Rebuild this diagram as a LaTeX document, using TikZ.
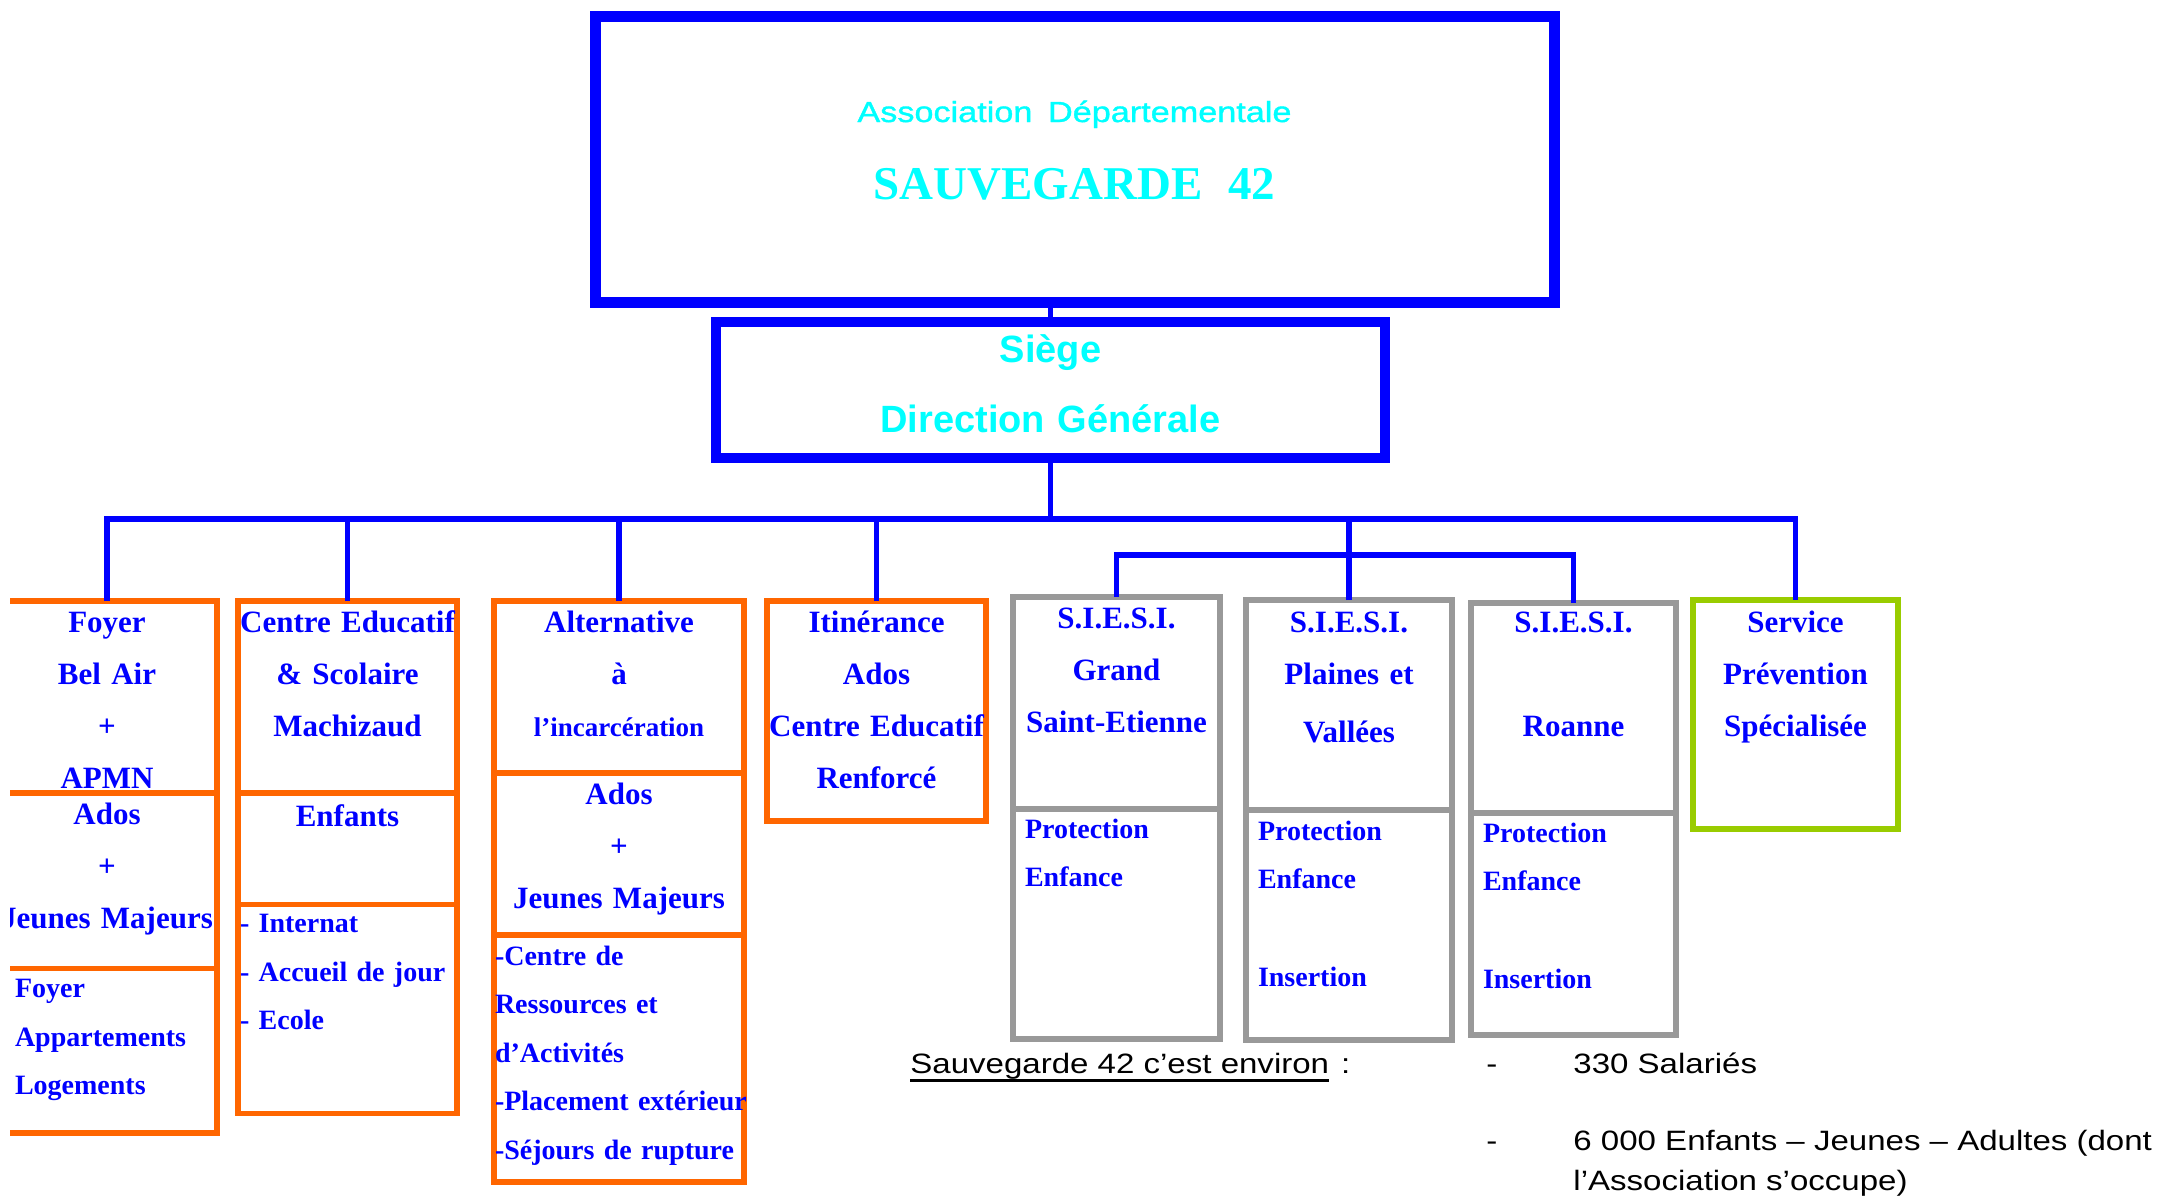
\documentclass[tikz,border=0pt]{standalone}
\usepackage{fontspec}
\setmainfont{Liberation Serif}
\setsansfont{Liberation Sans}
\newfontfamily\wideSans{Liberation Sans}[FakeStretch=1.18]
\newfontfamily\titleSans{Liberation Sans}[FakeStretch=1.18, FakeBold=1.2]
\usepackage{xcolor}
\usepackage{tikz}
\usetikzlibrary{positioning}
\definecolor{unitblue}{HTML}{0000FF}
\definecolor{titlecyan}{HTML}{00FFFF}
\definecolor{unitorange}{HTML}{FF6600}
\definecolor{unitgrey}{HTML}{999999}
\definecolor{unitgreen}{HTML}{99CC00}
\newcommand{\boxfont}{\fontsize{15.5}{26}\selectfont\bfseries}
\newcommand{\listfont}{\fontsize{14}{24.25}\selectfont\bfseries}
\newcommand{\underlined}[1]{\setbox0\hbox{#1}\rlap{\rule[-4.5pt]{\wd0}{1.5pt}}\box0}
\hyphenpenalty=10000
\exhyphenpenalty=10000
\hbadness=10000
\hfuzz=50pt

\begin{document}
\begin{tikzpicture}[x=0.5pt, y=-0.5pt,
    unit/.style={draw, line width=2.75pt, outer sep=0pt, inner xsep=1pt, inner ysep=0pt,
      text=unitblue, font=\boxfont, text height=15.5pt, align=center},
    orangeunit/.style={unit, draw=unitorange},
    greyunit/.style={unit, draw=unitgrey},
    greenunit/.style={unit, draw=unitgreen},
    titlebox/.style={draw=unitblue, outer sep=0pt, inner xsep=1pt, inner ysep=0pt, text=titlecyan, align=center},
    link/.style={draw=unitblue, line width=2.75pt},
    note/.style={inner sep=0pt, font=\wideSans\fontsize{14}{17}\selectfont}]
  \useasboundingbox (0,0) rectangle (2163,1199);
  \clip (10,0) rectangle (2163,1199);

  \node[titlebox, line width=5.5pt, text width=477.5pt, text height=53pt, text depth=90pt, anchor=north,
    font=\bfseries\fontsize{23.5}{38.5}\selectfont] (head) at (1074.5,16)
    {{\mdseries\titleSans\fontsize{14.5}{20}\selectfont Association Départementale}\\
     SAUVEGARDE\hspace{0.55em}42};
  \node[titlebox, line width=5pt, text width=332.5pt, text height=20pt, text depth=48pt, anchor=north,
    font=\sffamily\bfseries\fontsize{19}{35}\selectfont] (siege) at (1050.5,322) {Siège\\Direction Générale};

  \node[orangeunit, text width=108pt, text depth=80.5pt, anchor=north] (foyerA) at (107,601) {Foyer\\Bel~Air\\+\\APMN};
  \node[orangeunit, text width=108pt, text depth=72.25pt, below=0pt of foyerA] (foyerB) {Ados\\+\\Jeunes~Majeurs};
  \node[orangeunit, text width=92pt, inner xsep=9pt, text height=14.5pt, text depth=67.75pt, align=left, font=\listfont,
    below=0pt of foyerB] (foyerC) {Foyer\\Appartements\\Logements};

  \node[orangeunit, text width=107.5pt, text depth=80.5pt, anchor=north] (centreA) at (347.5,601) {Centre~Educatif\\\&~Scolaire\\Machizaud};
  \node[orangeunit, text width=107.5pt, text height=16.5pt, text depth=39.25pt, below=0pt of centreA] (centreB) {Enfants};
  \node[orangeunit, text width=107.5pt, text height=14pt, text depth=90.5pt, align=left, font=\listfont,
    below=0pt of centreB] (centreC) {- Internat\\- Accueil~de~jour\\- Ecole};

  \node[orangeunit, text width=123pt, text depth=70.5pt, anchor=north] (altA) at (619,601)
    {Alternative\\à\\{\fontsize{13.5}{26}\selectfont l’incarcération}};
  \node[orangeunit, text width=123pt, text depth=65.5pt, below=0pt of altA] (altB) {Ados\\+\\Jeunes~Majeurs};
  \node[orangeunit, text width=124pt, inner xsep=0.5pt, text height=15pt, text depth=108.5pt, align=left, font=\listfont,
    below=0pt of altB] (altC) {-Centre de\\Ressources et\\d’Activités\\-Placement~extérieur\\-Séjours~de~rupture};

  \node[orangeunit, text width=107.5pt, text depth=94.5pt, anchor=north] (itin) at (876.5,601)
    {Itinérance\\Ados\\Centre~Educatif\\Renforcé};

  \node[greyunit, text width=101.5pt, text depth=90.5pt, anchor=north] (siesiA1) at (1116.5,597) {S.I.E.S.I.\\Grand\\Saint-Etienne};
  \node[greyunit, text width=91.5pt, inner xsep=6pt, text height=14.5pt, text depth=100.5pt, align=left, font=\listfont,
    below=0pt of siesiA1] (siesiA2) {Protection\\Enfance};
  \node[greyunit, text width=101pt, text height=16pt, text depth=89pt, anchor=north] (siesiB1) at (1349,600)
    {S.I.E.S.I.\\Plaines~et\\[3pt]Vallées};
  \node[greyunit, text width=91pt, inner xsep=6pt, text height=15pt, text depth=100pt, align=left, font=\listfont,
    below=0pt of siesiB1] (siesiB2) {Protection\\Enfance\\[24.5pt]Insertion};
  \node[greyunit, text width=100.5pt, text height=14.5pt, text depth=90.5pt, anchor=north] (siesiC1) at (1573.5,603)
    {S.I.E.S.I.\\[26pt]Roanne};
  \node[greyunit, text width=90.5pt, inner xsep=6pt, text height=14.5pt, text depth=96.5pt, align=left, font=\listfont,
    below=0pt of siesiC1] (siesiC2) {Protection\\Enfance\\[24.5pt]Insertion};

  \node[greenunit, text width=100.5pt, text height=16pt, text depth=98.5pt, anchor=north] (service) at (1795.5,600)
    {Service\\Prévention\\Spécialisée};

  \draw[link, line width=2.5pt] (siege.north) -- (siege.north |- head.south);
  \draw[link] (siege.south) -- ++(0,61) coordinate (hub);
  \draw[link] (foyerA.north) |- (hub) -| (service.north);
  \draw[link] (centreA.north) -- (centreA.north |- hub);
  \draw[link] (altA.north) -- (altA.north |- hub);
  \draw[link] (itin.north) -- (itin.north |- hub);
  \draw[link] (siesiB1.north) -- (siesiB1.north |- hub);
  \path (hub) ++(0,36) coordinate (hub2);
  \draw[link] (siesiA1.north) |- (siesiB1.north |- hub2) -| (siesiC1.north);

  \node[note, anchor=base west] (summary) at (910,1073) {\underlined{Sauvegarde 42 c’est environ}\hspace{6pt}:};
  \node[note, anchor=base west] (dashA) at (1486,1073) {-};
  \node[note, anchor=base west] (staff) at (1573,1073) {330 Salariés};
  \node[note, anchor=base west] (dashB) at (1486,1150) {-};
  \node[note, anchor=base west] (publicA) at (1573,1150) {6 000 Enfants – Jeunes – Adultes (dont};
  \node[note, anchor=base west] (publicB) at (1573,1190) {l’Association s’occupe)};
\end{tikzpicture}
\end{document}
